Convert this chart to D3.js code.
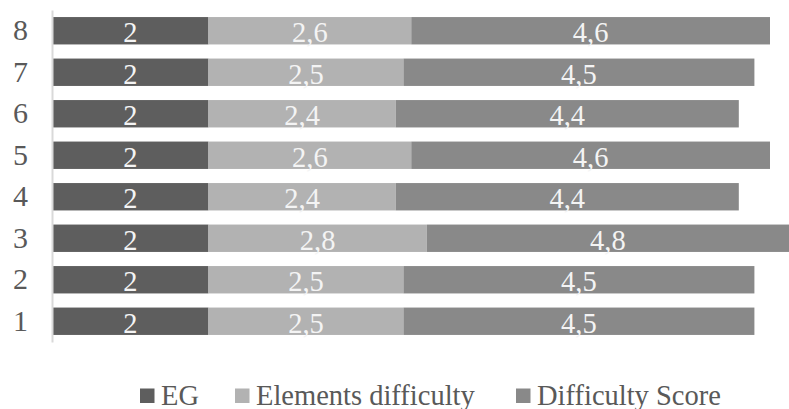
<!DOCTYPE html>
<html>
<head>
<meta charset="utf-8">
<script src="https://cdn.jsdelivr.net/npm/d3@7"></script>
<style>
  html, body { margin: 0; padding: 0; background: #ffffff; overflow: hidden; }
  svg { display: block; }
  text { font-family: "Liberation Serif", "Times New Roman", serif; }
</style>
</head>
<body>
<script>
// Categories shown on the vertical axis (bottom to top: 1..8)
const categories = ["1", "2", "3", "4", "5", "6", "7", "8"];
// Series values per category
const egValues = [2, 2, 2, 2, 2, 2, 2, 2];
const elementsValues = [2.5, 2.5, 2.8, 2.4, 2.6, 2.4, 2.5, 2.6];
const scoreValues = [4.5, 4.5, 4.8, 4.4, 4.6, 4.4, 4.5, 4.6];
const seriesNames = ["EG", "Elements difficulty", "Difficulty Score"];
const seriesColors = ["#5e5e5e", "#b2b2b2", "#898989"];

const width = 789, height = 409;
const fontSize = 28.5;
const svg = d3.select("body").append("svg")
  .attr("width", width).attr("height", height);

const rows = categories.map((c, i) => ({
  cat: c, EG: egValues[i], "Elements difficulty": elementsValues[i], "Difficulty Score": scoreValues[i]
}));
const stacked = d3.stack().keys(seriesNames)(rows);

const x = d3.scaleLinear().domain([0, 9.2]).range([52.5, 770]);
const y = d3.scaleBand().domain(categories.slice().reverse())
  .range([10, 342]).paddingInner(0.34).paddingOuter(0.17);

const fmt = v => String(v).replace(".", ",");

// Stacked bars
const layers = svg.append("g").selectAll("g").data(stacked).join("g")
  .attr("fill", (d, i) => seriesColors[i]);
layers.selectAll("rect").data(d => d).join("rect")
  .attr("x", d => x(d[0]))
  .attr("y", d => y(d.data.cat))
  .attr("width", d => x(d[1]) - x(d[0]))
  .attr("height", y.bandwidth());

// Value labels centred in each segment
const labels = svg.append("g");
stacked.forEach(layer => {
  labels.selectAll(null).data(layer).join("text")
    .attr("x", d => (x(d[0]) + Math.min(x(d[1]), width)) / 2)
    .attr("y", d => y(d.data.cat) + y.bandwidth() / 2 + 11.5)
    .attr("text-anchor", "middle")
    .attr("font-size", fontSize)
    .attr("fill", "#f4f4f4")
    .text(d => fmt(d.data[layer.key]));
});

// Vertical category axis
const yAxis = svg.append("g").attr("transform", `translate(${x(0) - 0.5},0)`)
  .call(d3.axisLeft(y).tickSize(0).tickPadding(24));
yAxis.select(".domain").attr("stroke", "#d9d9d9").attr("stroke-width", 2);
yAxis.selectAll("text")
  .attr("font-size", 30)
  .attr("fill", "#595959")
  .attr("font-family", "Liberation Serif, Times New Roman, serif")
  .attr("dy", "0.32em");

// Legend
const legendItems = [
  { name: seriesNames[0], x: 140 },
  { name: seriesNames[1], x: 235 },
  { name: seriesNames[2], x: 516 }
];
const legend = svg.append("g");
legendItems.forEach((d, i) => {
  legend.append("rect")
    .attr("x", d.x).attr("y", 388.5).attr("width", 14.5).attr("height", 14.5)
    .attr("fill", seriesColors[i]);
  legend.append("text")
    .attr("x", d.x + 21).attr("y", 405)
    .attr("font-size", fontSize)
    .attr("fill", "#595959")
    .text(d.name);
});
</script>
</body>
</html>
